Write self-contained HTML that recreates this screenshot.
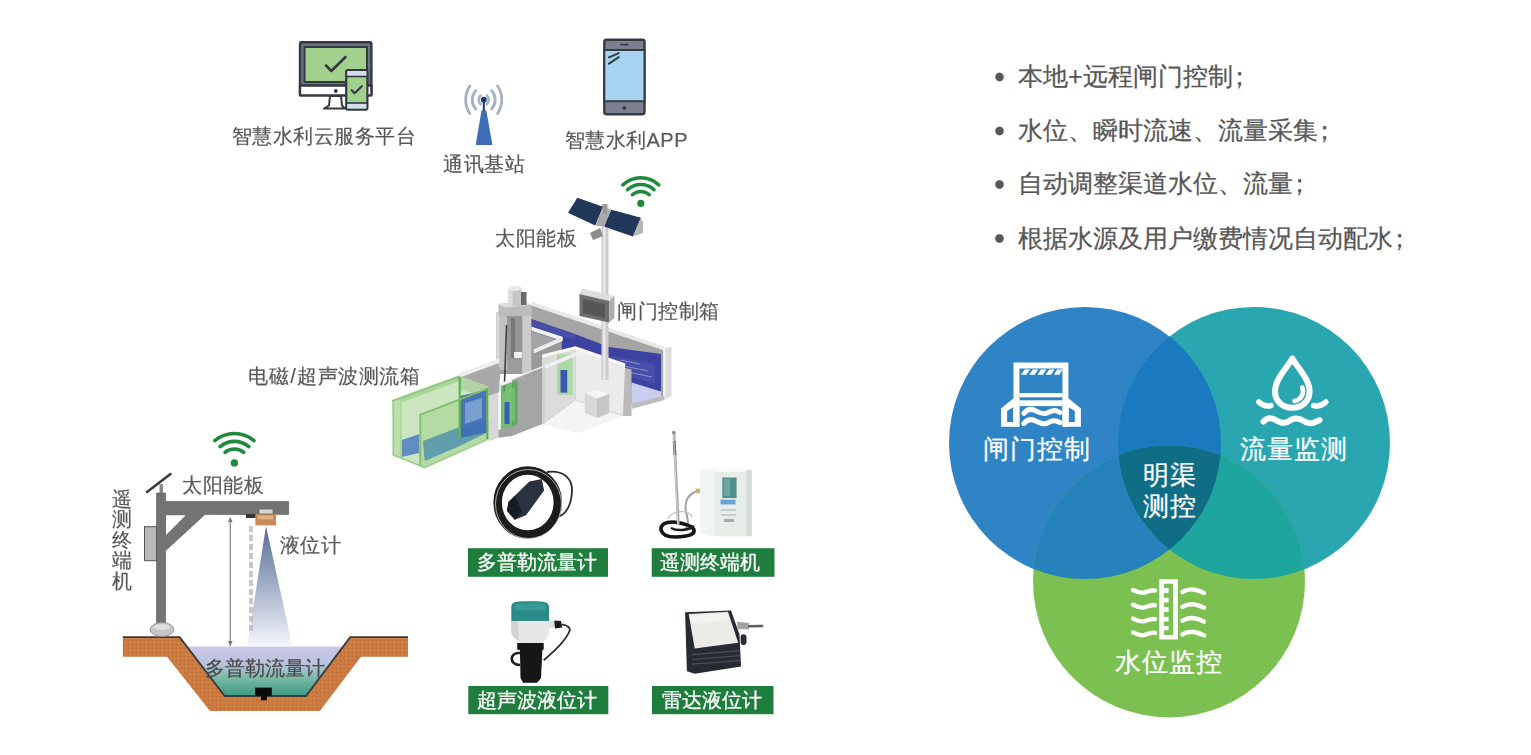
<!DOCTYPE html>
<html><head><meta charset="utf-8">
<style>
html,body{margin:0;padding:0;background:#fff;width:1531px;height:755px;overflow:hidden}
svg{position:absolute;left:0;top:0;font-family:"Liberation Sans",sans-serif}
</style></head><body>
<svg width="1531" height="755" viewBox="0 0 1531 755">
<defs>
<filter id="soft" x="-5%" y="-5%" width="110%" height="110%"><feGaussianBlur stdDeviation="0.6"/></filter>
<clipPath id="cB"><circle cx="1085" cy="443" r="136"/></clipPath>
<clipPath id="cT"><circle cx="1254" cy="443" r="136"/></clipPath>
<clipPath id="cG"><circle cx="1169" cy="581.4" r="136"/></clipPath>
</defs>

<!-- ===== bullets ===== -->
<g fill="#575757" font-size="25" stroke="#575757" stroke-width="0.25">
<circle cx="999.5" cy="77" r="4.2"/>
<circle cx="999.5" cy="131" r="4.2"/>
<circle cx="999.5" cy="184.5" r="4.2"/>
<circle cx="999.5" cy="238.5" r="4.2"/>
<text x="1018" y="85">本地+远程闸门控制<tspan dx="-6">；</tspan></text>
<text x="1018" y="138.7">水位、瞬时流速、流量采集<tspan dx="-6">；</tspan></text>
<text x="1018" y="192.4">自动调整渠道水位、流量<tspan dx="-6">；</tspan></text>
<text x="1018" y="246.8">根据水源及用户缴费情况自动配水<tspan dx="-6">；</tspan></text>
</g>

<!-- ===== venn ===== -->
<g>
<circle cx="1085" cy="443" r="136" fill="#2f84c6"/>
<circle cx="1254" cy="443" r="136" fill="#2aa6b1"/>
<circle cx="1169" cy="581.4" r="136" fill="#7bc050"/>
<circle cx="1085" cy="443" r="136" fill="#1b7abf" clip-path="url(#cT)"/>
<circle cx="1085" cy="443" r="136" fill="#2582bb" clip-path="url(#cG)"/>
<circle cx="1254" cy="443" r="136" fill="#1ea59e" clip-path="url(#cG)"/>
<g clip-path="url(#cT)"><circle cx="1085" cy="443" r="136" fill="#0f6e85" clip-path="url(#cG)"/></g>
</g>
<!-- venn icons -->
<g id="iconGate">
<path d="M1013.5 362.5 H1068.4 V426.7 H1062.5 V368.5 H1019.4 V426.7 H1013.5 Z" fill="#fff"/>
<path fill-rule="evenodd" d="M1013.5 398.3 L1001.0 408.4 L1001.0 426.7 L1019.4 426.7 L1019.4 398.3 Z M1007.1 411.1 L1013.2 407.2 L1013.2 422.0 L1007.1 422.0 Z M1068.4 398.3 L1080.9 408.4 L1080.9 426.7 L1062.5 426.7 L1062.5 398.3 Z M1074.8 411.1 L1068.7 407.2 L1068.7 422.0 L1074.8 422.0 Z" fill="#fff"/>
<path d="M1024.5 369.6 L1030.0 369.6 L1026.5 374.8 L1021.0 374.8 Z M1032.7 369.6 L1038.2 369.6 L1034.7 374.8 L1029.2 374.8 Z M1040.9 369.6 L1046.4 369.6 L1042.9 374.8 L1037.4 374.8 Z M1049.1 369.6 L1054.6 369.6 L1051.1 374.8 L1045.6 374.8 Z M1057.3 369.6 L1062.5 369.6 L1062.5 370 L1059.3 374.8 L1053.8 374.8 Z" fill="#fff"/>
<rect x="1019.4" y="393" width="43.1" height="4.3" fill="#fff"/>
<rect x="1019.4" y="400.3" width="43.1" height="5.8" fill="#fff"/>
<path d="M1023.8 413.4 C1027 409.5 1031 408.5 1035 410.5 C1039 412.5 1043 415 1047 413 C1051 411 1054.5 409 1060 412.5" fill="none" stroke="#fff" stroke-width="5" stroke-linecap="round"/>
<path d="M1023.8 423.6 C1027 419.7 1031 418.7 1035 420.7 C1039 422.7 1043 425.2 1047 423.2 C1051 421.2 1054.5 419.2 1060 422.7" fill="none" stroke="#fff" stroke-width="5" stroke-linecap="round"/>
</g>
<g id="iconDrop" fill="none" stroke="#fff" stroke-linecap="round">
<path d="M1292.3 358.5 C1297 367 1309.6 379 1309.6 391.5 C1309.6 401 1302 407.8 1292.3 407.8 C1282.6 407.8 1275 401 1275 391.5 C1275 379 1287.6 367 1292.3 358.5 Z" stroke-width="6" stroke-linejoin="round"/>
<path d="M1302.3 387.5 A10 10 0 0 1 1294.5 401" stroke-width="4.6"/>
<path d="M1258.8 402 Q1264.5 407.5 1271 405.5" stroke-width="5.5"/>
<path d="M1325.8 402 Q1320.1 407.5 1313.6 405.5" stroke-width="5.5"/>
<path d="M1263.5 421.5 C1267 417.7 1271 417.5 1275 419.7 C1279 422.7 1285 424.2 1289 421.2 C1293 417.7 1299 417.5 1303 420.7 C1307 423.7 1313 424.2 1317 421.2 L1319.5 420.2" stroke-width="6"/>
</g>
<g id="iconRuler" fill="#fff">
<path fill-rule="evenodd" d="M1159.3 579.2 H1177.8 V639.5 H1159.3 Z M1163.9 583.8 H1173.2 V634.9 H1163.9 Z"/>
<rect x="1163.9" y="588" width="4.7" height="5"/>
<rect x="1163.9" y="597.7" width="4.7" height="4.8"/>
<rect x="1163.9" y="607" width="4.7" height="5"/>
<rect x="1163.9" y="616.8" width="4.7" height="4.7"/>
<rect x="1163.9" y="626" width="4.7" height="4.3"/>
<g fill="none" stroke="#fff" stroke-width="4.4" stroke-linecap="round">
<path d="M1133 590 C1137 592 1141 593.5 1145 592.5 C1149 591 1152 589.5 1155 590.5"/>
<path d="M1133 604.8 C1137 606.8 1141 608.3 1145 607.3 C1149 605.8 1152 604.3 1155 605.3"/>
<path d="M1133 618.6 C1137 620.6 1141 622.1 1145 621.1 C1149 619.6 1152 618.1 1155 619.1"/>
<path d="M1133 632.4 C1137 634.4 1141 635.9 1145 634.9 C1149 633.4 1152 631.9 1155 632.9"/>
<path d="M1182.5 592 C1186 590 1190 589 1194 589.6 C1198 590.3 1201 591.5 1204 593"/>
<path d="M1182.5 606.8 C1186 604.8 1190 603.8 1194 604.4 C1198 605.1 1201 606.3 1204 607.8"/>
<path d="M1182.5 620.6 C1186 618.6 1190 617.6 1194 618.2 C1198 618.9 1201 620.1 1204 621.6"/>
<path d="M1182.5 634.4 C1186 632.4 1190 631.4 1194 632 C1198 632.7 1201 633.9 1204 635.4"/>
</g>
</g>
<g fill="#fff" font-size="26" letter-spacing="1.1" stroke="#fff" stroke-width="0.25">
<text x="982.5" y="457.5">闸门控制</text>
<text x="1239.5" y="457.5">流量监测</text>
<text x="1114.5" y="671">水位监控</text>
<text x="1142.5" y="484" font-size="26" letter-spacing="1.6">明渠</text>
<text x="1142.5" y="514.5" font-size="26" letter-spacing="1.6">测控</text>
</g>

<!-- ===== monitor icon ===== -->
<g stroke="#343941" stroke-linejoin="round">
<path d="M330 96 L329 105.5 L324 108.6 L345 108.6 L342 105.5 L341 96 Z" fill="#fff" stroke-width="2"/>
<rect x="300" y="42.2" width="71.4" height="53.2" rx="1.8" fill="#6d7383" stroke-width="2.4"/>
<rect x="300" y="85.5" width="71.4" height="9.9" fill="#fff" stroke-width="2.4"/>
<rect x="304.5" y="47" width="62.5" height="35" fill="#a2d18e" stroke-width="2"/>
<path d="M326 65.5 L331.3 71 L345.5 57" fill="none" stroke-width="2.6" stroke-linecap="round"/>
<circle cx="335.8" cy="91" r="1.9" fill="#343941" stroke="none"/>
<rect x="346.2" y="70" width="21.2" height="39.6" rx="1.5" fill="#a2d18e" stroke-width="2.2"/>
<rect x="347.3" y="71" width="19" height="5" fill="#d4dcee" stroke="none"/>
<rect x="347.3" y="103.5" width="19" height="5" fill="#d4dcee" stroke="none"/>
<line x1="346.2" y1="76.5" x2="367.4" y2="76.5" stroke-width="1.6"/>
<line x1="346.2" y1="103" x2="367.4" y2="103" stroke-width="1.6"/>
<path d="M351.6 90.2 L354.6 93.3 L361.8 86.2" fill="none" stroke-width="2.2" stroke-linecap="round"/>
</g>

<!-- ===== antenna ===== -->
<g fill="none" stroke="#a9b2c2" stroke-linecap="round" stroke-width="2.9">
<path d="M469.8 86 A25 25 0 0 0 469.8 113.5"/>
<path d="M497.6 86 A25 25 0 0 1 497.6 113.5"/>
<path d="M475.7 90.6 A14 14 0 0 0 475.7 109"/>
<path d="M491.7 90.6 A14 14 0 0 1 491.7 109"/>
<path d="M480.6 95.5 A5.8 5.8 0 0 0 480.6 104.2" stroke-width="2.5"/>
<path d="M486.8 95.5 A5.8 5.8 0 0 1 486.8 104.2" stroke-width="2.5"/>
</g>
<path d="M481.5 110.5 L486.3 110.5 L492.4 145 L475.7 145 Z" fill="#3e6eb8"/>
<rect x="482.8" y="100" width="2" height="11" fill="#1d3a73"/>
<circle cx="483.8" cy="99.8" r="3" fill="#1d3a73"/>

<!-- ===== phone icon ===== -->
<g stroke="#363b43">
<rect x="604.3" y="39.8" width="40.2" height="74.4" rx="2.2" fill="#7a808f" stroke-width="2.4"/>
<rect x="604.3" y="50" width="40.2" height="51.2" fill="#a5d3f1" stroke-width="2"/>
<line x1="620.3" y1="44.6" x2="628.4" y2="44.6" stroke-width="1.6"/>
<circle cx="624.3" cy="108" r="1.9" fill="#363b43" stroke="none"/>
<line x1="609" y1="57.4" x2="618.8" y2="53.2" stroke-width="2" stroke-linecap="round"/>
<line x1="609" y1="63.6" x2="618.8" y2="57.2" stroke-width="2" stroke-linecap="round"/>
</g>

<!-- ===== wifi icons ===== -->
<path d="M622.7 184.9A26.3 26.3 0 0 1 658.9 184.9" stroke="#1f8a3b" stroke-width="3.4" fill="none" stroke-linecap="round"/>
<path d="M627.5 189.8A19.4 19.4 0 0 1 654.1 189.8" stroke="#1f8a3b" stroke-width="3.4" fill="none" stroke-linecap="round"/>
<path d="M632.3 194.8A12.4 12.4 0 0 1 649.3 194.8" stroke="#1f8a3b" stroke-width="3.4" fill="none" stroke-linecap="round"/>
<circle cx="640.8" cy="203.4" r="3.6" fill="#1f8a3b"/>
<path d="M214.8 440.6A30.5 30.5 0 0 1 254 440.6" stroke="#1f8a3b" stroke-width="3.6" fill="none" stroke-linecap="round"/>
<path d="M220 446.6A22.5 22.5 0 0 1 248.8 446.6" stroke="#1f8a3b" stroke-width="3.6" fill="none" stroke-linecap="round"/>
<path d="M225 452.3A14.8 14.8 0 0 1 243.8 452.3" stroke="#1f8a3b" stroke-width="3.6" fill="none" stroke-linecap="round"/>
<circle cx="234.4" cy="462.9" r="3.7" fill="#1f8a3b"/>

<!-- ===== 3D gate illustration ===== -->
<defs>
<linearGradient id="gBlueBand" x1="0" y1="0" x2="1" y2="0">
<stop offset="0" stop-color="#3d47a6"/><stop offset="0.5" stop-color="#6a72b8"/><stop offset="1" stop-color="#3b45a8"/>
</linearGradient>
<linearGradient id="gGreen" x1="0" y1="0" x2="1" y2="0">
<stop offset="0" stop-color="#b9dcae"/><stop offset="1" stop-color="#9fd08f"/>
</linearGradient>
</defs>
<g id="gate3d" filter="url(#soft)">
<!-- back wall face -->
<path d="M531.2 305 L664 350 L664 396 L631.5 404 L531.2 404 Z" fill="#a5a5a5"/>
<path d="M531.2 319 L575 334 L609 347 L661 354 L661 394 L631.5 385 L600 370 L560 352 L531.2 338 Z" fill="#3c43a2"/>
<path d="M531.2 319 L575 334 L575 340 L531.2 326 Z" fill="#5058a8" opacity="0.6"/>
<path d="M612 356 L655 364 L655 384 L632 377 L612 366 Z" fill="#4a52ac" opacity="0.8"/>
<path d="M624 366 L648 371 M628 372 L652 377 M620 360 L640 364" stroke="#8a91cc" stroke-width="1"/>
<path d="M531.2 301.4 L664.5 346.5 L664.5 350.5 L531.2 305.6 Z" fill="#e8e8e8"/>
<!-- right end -->
<path d="M631.5 382.6 L661 391.5 L661 398 L631.5 404 Z" fill="#c9cdef"/>
<path d="M663.2 349 L671.5 346.5 L671.5 396 L663.2 400 Z" fill="#dcdcdc"/>
<path d="M663.2 349 L665.5 348.3 L665.5 399 L663.2 400 Z" fill="#f3f3f3"/>
<path d="M631.5 403.4 L664.5 395.8 L664.5 400 L631.5 409 Z" fill="#bdbdbd"/>
<path d="M622.8 367.3 L631.5 369.5 L631.5 416 L622.8 416 Z" fill="#bababa"/>
<!-- inner L walls -->
<path d="M531.2 331 L561.5 341 L561.5 352 L531.2 366 Z" fill="#a4a4a4"/>
<path d="M531.2 350 L561.5 338 L561.5 360 L531.2 372 Z" fill="#9a9a9a"/>
<path d="M531.2 326.5 L562.5 336.8 L562.5 341 L531.2 330.8 Z" fill="#f0f0f0"/>
<path d="M562.5 336.8 L533.7 349.2 L533.7 353.5 L562.5 341 Z" fill="#ededed"/>
<!-- transparent center box -->
<path d="M542.4 356 L575.3 347.8 L625.1 364.8 L623 415.6 L578.5 432.6 L542.4 424 Z" fill="#ebebeb"/>
<path d="M542.4 356 L575.3 347.8 L575.3 400 L542.4 424 Z" fill="#dcdcdc"/>
<path d="M575.3 400 L623 415.6 L578.5 432.6 L542.4 424 Z" fill="#f4f4f4"/>
<path d="M575.3 347.8 L575.3 400 L623 415.6 M575.3 400 L542.4 424" fill="none" stroke="#c9c9c9" stroke-width="0.8"/>
<path d="M542.4 356 L575.3 347.8 L625.1 364.8" fill="none" stroke="#fbfbfb" stroke-width="3"/>
<!-- white cube -->
<path d="M584.8 393 L597 389.5 L609.2 394 L609.2 413 L597 418 L584.8 413 Z" fill="#d8d8d8"/>
<path d="M584.8 393 L597 389.5 L609.2 394 L597 398.7 Z" fill="#f5f5f5"/>
<path d="M597 398.7 L609.2 394 L609.2 413 L597 418 Z" fill="#c6c6c6"/>
<!-- green element in center -->
<rect x="557" y="354.3" width="15.8" height="40.6" fill="#a4d89a" opacity="0.85"/>
<rect x="560.5" y="370" width="6.7" height="22.6" fill="#3a55b2"/>
<!-- pole + control box -->
<rect x="601.5" y="204" width="7" height="176" fill="#cdcdcd"/>
<rect x="603.2" y="204" width="2.2" height="176" fill="#ebebeb"/>
<path d="M579.5 294 L582 288.5 L614.5 296 L609.2 301 Z" fill="#dedede"/>
<path d="M579.5 294 L609.2 301 L609.2 322.4 L579.5 316 Z" fill="#6e6e6e"/>
<path d="M609.2 301 L614.5 296 L614.5 318 L609.2 322.4 Z" fill="#aeaeae"/>
<path d="M583 299 L605 304 L605 318 L583 313 Z" fill="#575757"/>
<!-- gate frame -->
<rect x="496.3" y="312" width="34.9" height="62" fill="#9c9c9c"/>
<rect x="496.3" y="312" width="11" height="58" fill="#c2c2c2"/>
<rect x="496.3" y="312" width="3" height="58" fill="#d9d9d9"/>
<rect x="522.2" y="309.3" width="9" height="65.3" fill="#cbcbcb"/>
<rect x="507.3" y="316" width="14.9" height="44" fill="#959595"/>
<rect x="511" y="318" width="4" height="40" fill="#777"/>
<rect x="514" y="352" width="8" height="6" fill="#eeeeee"/>
<path d="M498.5 304 L524 301.4 L531.2 305 L531.2 316 L498.5 316 Z" fill="#bcbcbc"/>
<path d="M498.5 304 L524 301.4 L531.2 305 L505 307.5 Z" fill="#dedede"/>
<rect x="508.6" y="288" width="13" height="18" fill="#c6c6c6"/>
<rect x="508.6" y="288" width="4" height="18" fill="#dcdcdc"/>
<ellipse cx="515.1" cy="288.2" rx="6.5" ry="2.6" fill="#eaeaea"/>
<rect x="521" y="292" width="5.5" height="13" fill="#6a6a6a"/>
<path d="M506.5 325 L505 370 L504 395" fill="none" stroke="#3f3f3f" stroke-width="1.6"/>
<!-- front slot wall -->
<path d="M485 371 L500 365.6 L500 380 L485 386 Z" fill="#a9a9a9"/>
<path d="M485 368 L500 362.5 L500 366.5 L485 372 Z" fill="#eeeeee"/>
<path d="M498.5 384 L584 349 L584 353 L498.5 388 Z" fill="#f0f0f0"/>
<path d="M512 380 L542.4 367.5 L542.4 424 L512 436 Z" fill="#a5a5a5"/>
<path d="M542.4 367 L545 366 L545 424 L542.4 424 Z" fill="#d3d3d3"/>
<path d="M500.8 386 L517.7 380 L517.7 424 L500.8 432 Z" fill="#4faa52" opacity="0.8"/>
<path d="M503 392 L515 387 L515 420 L503 425 Z" fill="#7cc47a" opacity="0.7"/>
<rect x="504.5" y="402" width="5" height="22" fill="#3a5cb3"/>
<path d="M488.4 388 L498.5 385 L498.5 437.7 L488.4 441.4 Z" fill="#d7d7d7"/>
<path d="M488.4 388 L498.5 385 L500.5 386 L490.5 389 Z" fill="#f5f5f5"/>
<path d="M498.5 437.7 L512 436 L512 426 L498.5 430 Z" fill="#a0a0a0"/>
<!-- gray wall behind green box -->
<path d="M459.7 376.2 L499.4 361.9 L499.4 392 L459.7 406 Z" fill="#a9a9a9"/>
<path d="M459.7 373 L499.4 358.5 L499.4 363 L459.7 377.5 Z" fill="#eeeeee"/>
<!-- green transparent flow box -->
<path d="M392.2 400.9 L459.7 376.2 L488.3 386.6 L488.3 439 L424.7 467.6 L394.5 454.9 Z" fill="#cce7c0"/>
<path d="M459.7 376.2 L488.3 386.6 L488.3 396 L459.7 390 Z" fill="#b2d3a6"/>
<path d="M392.2 400.9 L401 398 L401 458 L394.5 454.9 Z" fill="#bddfae"/>
<path d="M392.2 400.9 L459.7 376.2 L459.7 381 L401 402.5 L401 398 Z" fill="#a9d699"/>
<path d="M419.2 415.2 L486.7 389 L488.3 439 L424.7 467.6 L419.2 465 Z" fill="#b4dba4"/>
<path d="M401.7 440 L419.2 434 L419.2 453 L401.7 457 Z" fill="#4f7dc2" opacity="0.85"/>
<path d="M423 441 L459.7 427 L488.3 420 L488.3 432 L459.7 446 L424.7 461 Z" fill="#4b8fae" opacity="0.8"/>
<path d="M459.7 396 L486.7 390 L486.7 432.6 L459.7 438 Z" fill="#3f6bb8" opacity="0.92"/>
<path d="M465 403 L482 398 L482 418 L465 424 Z" fill="#8aaed8" opacity="0.75"/>
<path d="M392.2 400.9 L459.7 376.2" fill="none" stroke="#8fc97f" stroke-width="2"/>
<path d="M393.3 401 L393.3 455 L424.7 467.6 L488.3 439" fill="none" stroke="#9bcf8b" stroke-width="1.8"/>
<path d="M401 398.5 L401 457" stroke="#a0d290" stroke-width="1.2"/>
<path d="M459.7 377 L459.7 438" stroke="#64b458" stroke-width="2.4"/>
<path d="M487.3 388 L487.3 439" stroke="#5eae52" stroke-width="2.2"/>
<path d="M419.2 415.2 L486.7 389" stroke="#7fbf6c" stroke-width="1.8"/>
<path d="M420.3 415.5 L420.3 465" stroke="#86c274" stroke-width="2"/>
</g>

<!-- ===== solar panel top ===== -->
<path d="M568 212.7 L577.3 197.8 L603.1 206.7 L595.2 225.6 Z" fill="#22385a"/>
<path d="M604.1 226.6 L611.1 209.7 L640.9 217.7 L632.9 236.5 Z" fill="#22385a"/>
<path d="M632.9 236.5 L640.9 217.7 L643 222 L643 233 Z" fill="#b7b7b7"/>
<path d="M595.2 225.6 L603.1 206.7 L611.1 209.7 L604.1 226.6 Z" fill="#aaaaaa"/>
<path d="M590 233 L600 228 L603 236 L593 240 Z" fill="#8b8b8b"/>
<rect x="603" y="204" width="4" height="10" fill="#9a9a9a"/>

<!-- ===== lower-left trench illustration ===== -->
<defs>
<linearGradient id="gCone" x1="0" y1="0" x2="0" y2="1">
<stop offset="0" stop-color="#5a6d93"/><stop offset="0.45" stop-color="#9aa9c3"/><stop offset="1" stop-color="#f4f6fa"/>
</linearGradient>
<linearGradient id="gWater" x1="0" y1="0" x2="0" y2="1">
<stop offset="0" stop-color="#cdc8e8"/><stop offset="0.35" stop-color="#b9c3dc"/><stop offset="0.65" stop-color="#78b7a6"/><stop offset="1" stop-color="#3c9a7e"/>
</linearGradient>
<pattern id="pDirt" width="4" height="4" patternUnits="userSpaceOnUse">
<rect width="4" height="4" fill="#cc7a40"/><rect x="0" y="0" width="1" height="1" fill="#bb6c34"/><rect x="2" y="2" width="1" height="1" fill="#d68a52"/>
</pattern>
</defs>
<!-- earth -->
<path d="M122.8 637.2 L179.7 637.2 L224.7 696 L306 696 L350.2 637.2 L408 637.2 L408 656.8 L361 656.8 L319.8 711 L210 711 L167 656.8 L122.8 656.8 Z" fill="url(#pDirt)"/>
<!-- water -->
<path d="M186.8 646.5 L343.2 646.5 L306 696 L224.7 696 Z" fill="url(#gWater)"/>
<path d="M122.8 637.2 L179.7 637.2 L224.7 696 L306 696 L350.2 637.2 L408 637.2" fill="none" stroke="#3b3b3b" stroke-width="1.8"/>
<!-- doppler sensor -->
<rect x="255.1" y="687.6" width="16.7" height="8.2" fill="#0a0a0a"/>
<rect x="261" y="695" width="5.9" height="5.3" fill="#0a0a0a"/>
<!-- cone beam -->
<path d="M266 526 L292.4 646.2 L247.1 646.2 Z" fill="url(#gCone)"/>
<!-- dashed line -->
<line x1="251" y1="526" x2="251" y2="632" stroke="#a3a3a3" stroke-width="3.2" stroke-dasharray="6 3"/>
<line x1="251" y1="526" x2="251" y2="632" stroke="#fff" stroke-width="0.8"/>
<!-- dimension line -->
<line x1="230.3" y1="518" x2="230.3" y2="646" stroke="#8a8a8a" stroke-width="1.3"/>
<path d="M228 522 L230.3 517 L232.6 522 Z M228 641 L230.3 646.5 L232.6 641 Z" fill="#777"/>
<!-- pole -->
<path d="M147 492 L170.5 474" stroke="#3c3c3c" stroke-width="2.6" stroke-linecap="round"/>
<rect x="159.5" y="484" width="3.5" height="9" fill="#8a8a8a"/>
<g fill="#737373" stroke="#5a5a5a" stroke-width="0.6">
<path d="M156.5 493 L165.5 493 L165.5 501.5 L288.7 501.5 L288.7 514.4 L204.9 514.6 L165.5 550.8 L165.5 624.8 L156.5 624.8 Z"/>
</g>
<path d="M166 515.2 L185.7 515.2 L166 535 Z" fill="#fff"/>
<rect x="144.5" y="526.7" width="12" height="34" fill="#bababa" stroke="#555" stroke-width="1"/>
<ellipse cx="162" cy="629.5" rx="11.8" ry="7" fill="#c5c5c5" stroke="#888" stroke-width="0.8"/>
<ellipse cx="162" cy="627" rx="8" ry="3" fill="#dedede"/>
<!-- level sensor -->
<rect x="255.4" y="514" width="20.6" height="11.4" fill="#c98a55"/>
<rect x="258" y="515.4" width="15" height="4" fill="#e0b080"/>
<rect x="259" y="509" width="14" height="5" fill="#d6d6d6" stroke="#666" stroke-width="0.8"/>
<rect x="246" y="514" width="9.4" height="4" fill="#333"/>

<!-- ===== products ===== -->
<g id="products" filter="url(#soft)">
<!-- doppler flowmeter coil -->
<path d="M547 472 C563 470 573 478 572 492 C571 506 566 514 558 517" fill="none" stroke="#2b2b2b" stroke-width="1.8"/>
<ellipse cx="527.75" cy="502.5" rx="30.1" ry="32" fill="none" stroke="#1a1a1d" stroke-width="8.5"/>
<ellipse cx="528.5" cy="504" rx="33" ry="34.5" fill="none" stroke="#e8e8e8" stroke-width="0.9" opacity="0.8"/>
<path d="M506.9 510.7 L508.6 501.7 L529.4 481.4 L541.8 479.1 L544.1 490.4 L526 515.2 L514.8 519.7 Z" fill="#2b3142"/>
<path d="M506.9 510.7 L508.6 501.7 L515 496 L522 512 L514.8 519.7 Z" fill="#161a22"/>
<!-- telemetry terminal -->
<path d="M697 491 C688 494 684 502 686 512 C688 520 690 526 684 530" fill="none" stroke="#a0a0a0" stroke-width="2"/>
<path d="M668 519 C672 510 688 509 692 517" fill="none" stroke="#c8c8c8" stroke-width="1.5"/>
<path d="M661 530 C660 522 672 520 684 524 C696 527 698 534 686 536 C674 538 663 537 661 530 Z" fill="none" stroke="#141414" stroke-width="3.6"/>
<path d="M671 528 C676 531 688 531 694 526" fill="none" stroke="#1d1d1d" stroke-width="2.4"/>
<line x1="674" y1="433" x2="678.3" y2="524" stroke="#a9a9a9" stroke-width="2.8"/>
<line x1="674.2" y1="441" x2="674.9" y2="455" stroke="#6e6e6e" stroke-width="2.8"/>
<line x1="673.6" y1="433" x2="677.8" y2="524" stroke="#dcdcdc" stroke-width="0.8"/>
<circle cx="673.8" cy="432.5" r="1.8" fill="#8a8a8a"/>
<rect x="696" y="488.6" width="7" height="4.6" fill="#c9b27a"/>
<path d="M700 471 L714 469.5 L751.7 469.5 L751.7 536.3 L714 536.3 L700 533 Z" fill="#e7eeea"/>
<path d="M700 471 L714 469.5 L714 536.3 L700 533 Z" fill="#f1f5f2"/>
<path d="M714 469.5 L751.7 469.5 L751.7 472 L714 472 Z" fill="#fafafa"/>
<rect x="746" y="470" width="5.7" height="66" fill="#d5ddd8"/>
<rect x="722.3" y="477.5" width="14.3" height="20.6" fill="#538e8c"/>
<rect x="724" y="479" width="6" height="17" fill="#6ea8a4"/>
<rect x="720.5" y="499.7" width="15" height="4.8" fill="#6a9fd6"/>
<rect x="721" y="509" width="15" height="2" fill="#c4d0cb"/>
<rect x="721" y="514" width="15" height="2" fill="#c4d0cb"/>
<rect x="724" y="519" width="10" height="3" fill="#9cb0ad"/>
<!-- ultrasonic -->
<path d="M562 624.4 C567 625 571 628 569.5 631 C566 640 556 650 543.7 660.2" fill="none" stroke="#2a2a2a" stroke-width="1.8"/>
<path d="M549 621 L555 621 L555 628 L549 628 Z" fill="#e0e0e0"/>
<path d="M554.3 620.5 L561 621 L562.3 627.5 L555 628.4 Z" fill="#1a1a1a"/>
<path d="M511.3 608 C511.3 602 514 601.3 530 601.3 C546 601.3 549 602 549 608 L549 621.8 L511.3 621.8 Z" fill="#2a8b89"/>
<path d="M515 604 C522 603 538 603 545 604 L546 610 L514 610 Z" fill="#3d9e9b" opacity="0.8"/>
<path d="M511.3 621.1 L549 621.1 L549 632 C549 638 543 643 540.4 643 L523.2 643 C519 643 511.3 638 511.3 632 Z" fill="#e7e7e7"/>
<path d="M511.3 621.1 L518 621.1 L519 641 C515 639 511.3 636 511.3 632 Z" fill="#d3d3d3"/>
<path d="M517.2 643 L543.7 643 L543.7 649.6 L542.4 650 L541 678 L537 682.7 L523 682.7 L520.5 678 L519.9 650 L517.2 649.6 Z" fill="#161616"/>
<path d="M520 653 C509 652 509 665 520 665" fill="none" stroke="#1c1c1c" stroke-width="2.6"/>
<!-- radar -->
<path d="M685.1 612.3 L731 610.5 L739.4 634.3 L741.1 666.5 L694.7 673.7 L686.9 671.3 Z" fill="#262a33"/>
<path d="M688.7 614.1 L728 611.7 L738.2 642.7 L694.7 648.6 Z" fill="#ebebe8"/>
<path d="M690 616 L727 613.5 L729 620 L692 624 Z" fill="#f5f5f3" opacity="0.8"/>
<line x1="692" y1="654.6" x2="740" y2="650.6" stroke="#4b4f58" stroke-width="1.1"/>
<line x1="692" y1="659.4" x2="740" y2="655.6" stroke="#4b4f58" stroke-width="1.1"/>
<line x1="692" y1="664.1" x2="740" y2="660.6" stroke="#4b4f58" stroke-width="1.1"/>
<path d="M737 621.8 L748.9 623 L748.9 629.6 L737.5 629" fill="#a3a3a3"/>
<path d="M748 626.3 L763.2 626" stroke="#5f5f5f" stroke-width="2.6"/>
<rect x="740.6" y="634.3" width="5.9" height="10.7" rx="2.9" fill="#2c2f36"/>
</g>
<!-- green labels -->
<g fill="#1f7e3d">
<rect x="468" y="548.2" width="140" height="28.6"/>
<rect x="651.7" y="548.2" width="122.8" height="28.6"/>
<rect x="468.3" y="686" width="140" height="28.2"/>
<rect x="652" y="686" width="121.5" height="28.2"/>
</g>
<g fill="#fff" font-size="20" stroke="#fff" stroke-width="0.3">
<text x="477" y="569">多普勒流量计</text>
<text x="660" y="569">遥测终端机</text>
<text x="477" y="707">超声波液位计</text>
<text x="662" y="707">雷达液位计</text>
</g>

<!-- ===== top labels ===== -->
<g fill="#595757" font-size="20" letter-spacing="0.5" stroke="#595757" stroke-width="0.2">
<text x="231.5" y="143.3">智慧水利云服务平台</text>
<text x="443" y="170.5">通讯基站</text>
<text x="564.5" y="146.5">智慧水利APP</text>
<text x="495" y="245">太阳能板</text>
<text x="617" y="317.5">闸门控制箱</text>
<text x="248" y="382.5">电磁<tspan dx="1.2">/</tspan><tspan dx="1.2">超声波测流箱</tspan></text>
<text x="182.3" y="492">太阳能板</text>
<text x="279.5" y="551.5">液位计</text>
<text x="205.3" y="675" letter-spacing="0" fill="#4a4a4a" stroke="#4a4a4a">多普勒流量计</text>
<text x="111.5" y="505.5">遥</text>
<text x="111.5" y="526">测</text>
<text x="111.5" y="546.5">终</text>
<text x="111.5" y="567">端</text>
<text x="111.5" y="587.5">机</text>
</g>

</svg>
</body></html>
